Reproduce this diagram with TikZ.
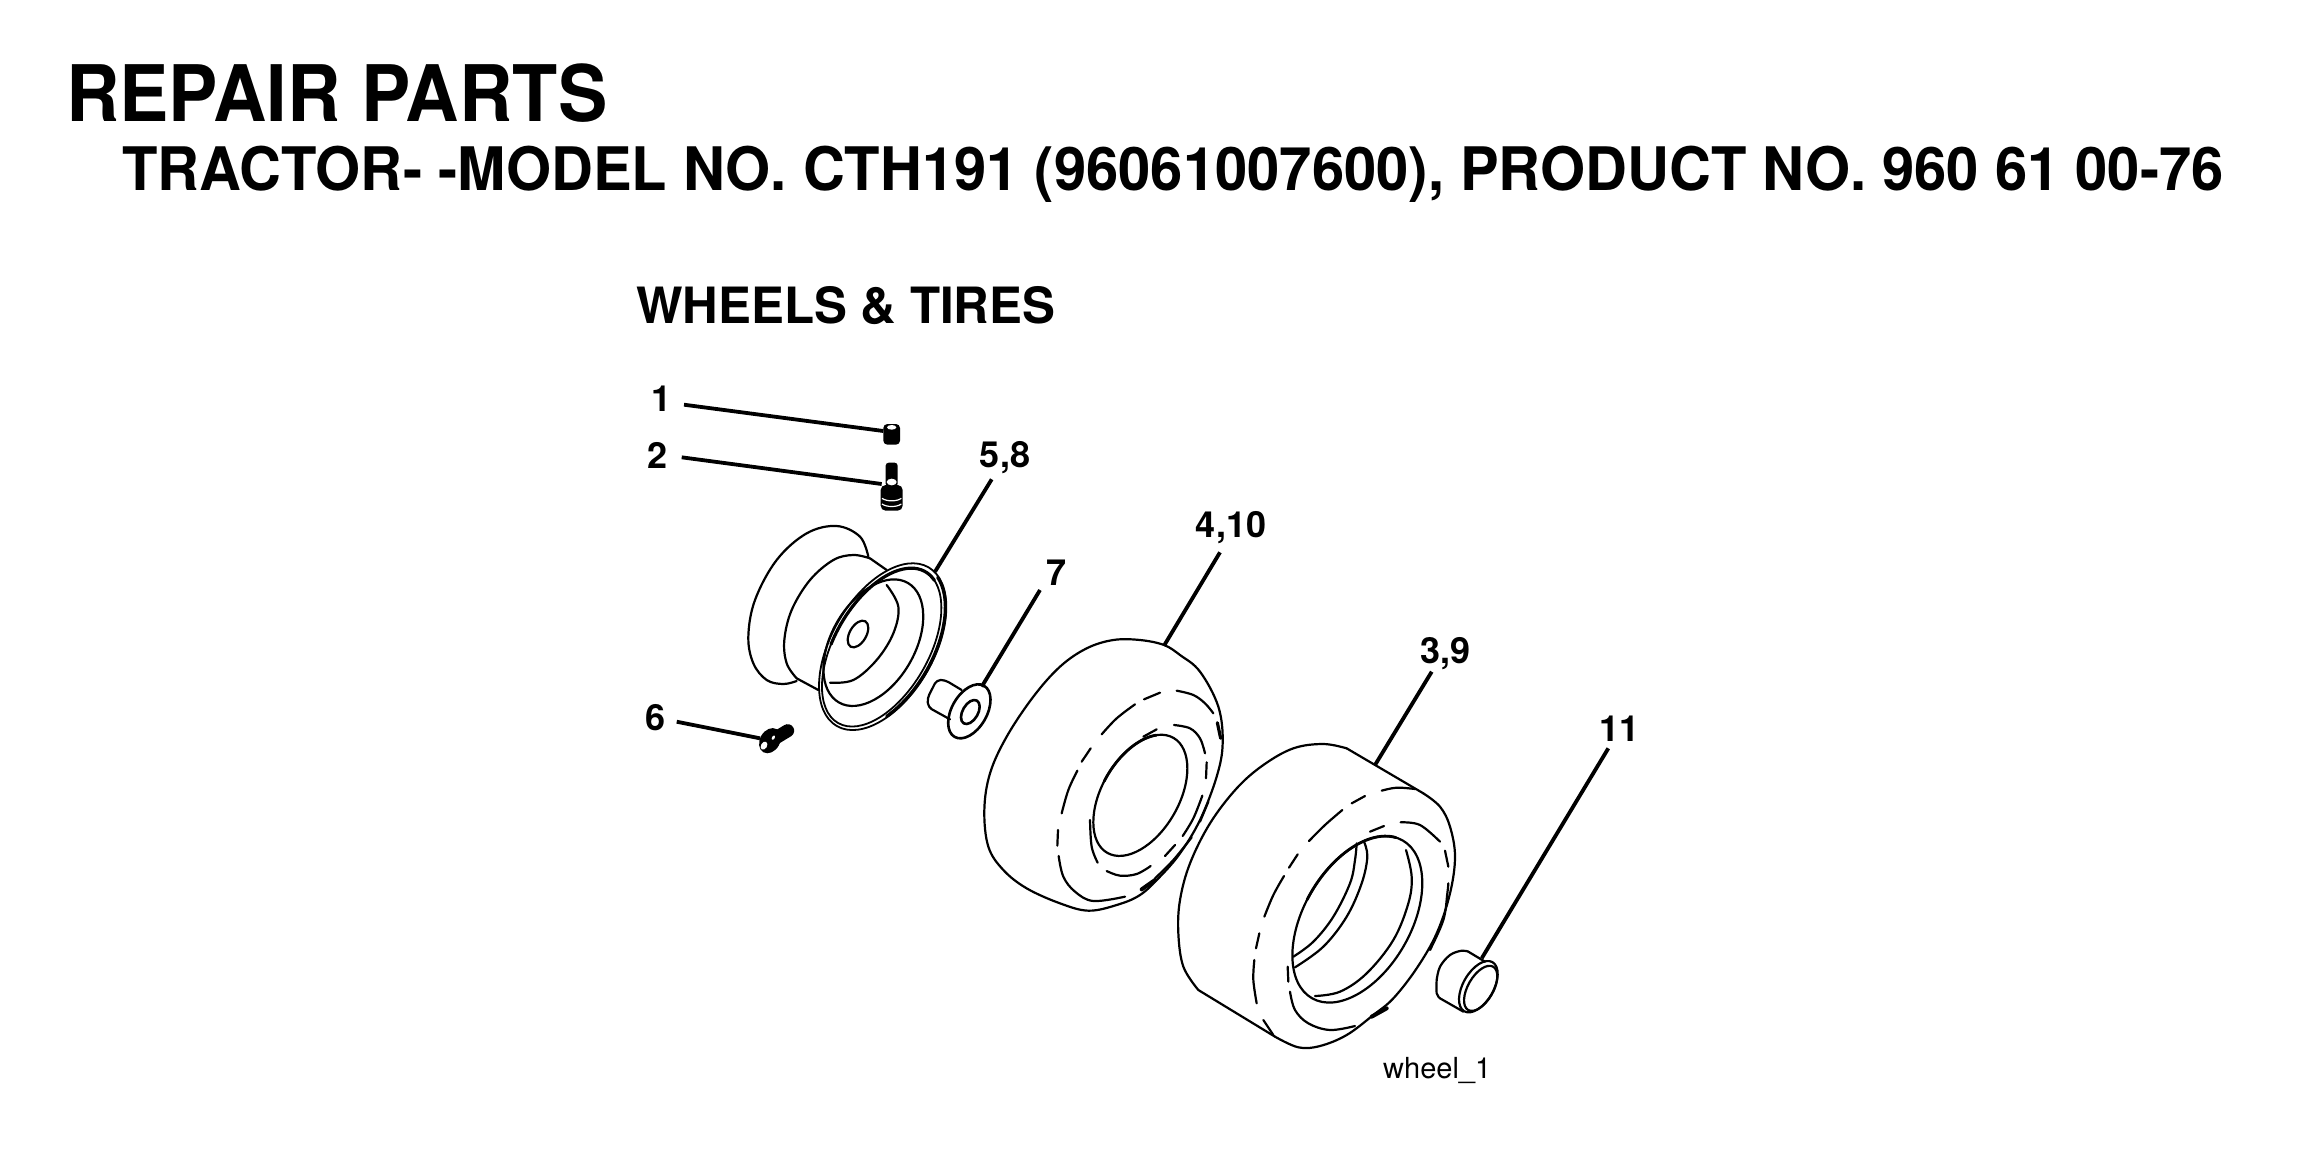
\documentclass[tikz,border=0pt]{standalone}
\usepackage{fontspec}
\setmainfont{TeX Gyre Heros}
\tikzset{
  ol/.style={line width=2.2pt,black,line cap=round,line join=round},
  heavy/.style={ol,line width=3.2pt},
  leader/.style={line width=3.8pt,black},
  callout/.style={inner sep=0pt,anchor=base,font=\fontsize{36}{36}\selectfont\bfseries},
  heading/.style={inner sep=0pt,anchor=base west},
}
\newcommand\cv[2][ol]{\draw[#1] plot[smooth,tension=.6] coordinates{#2};}
\newcommand\cvc[2][ol]{\draw[#1] plot[smooth cycle,tension=.6] coordinates{#2};}
\newcommand\tilt[5][ol]{\draw[#1] (#2,#3) circle[x radius=#4,y radius=#5,rotate=-30];}
% [style]{cx}{cy}{b}{a}{start}{end}
\newcommand\tiltarc[7][heavy]{\begin{scope}[shift={(#2,#3)},rotate=-30]
  \draw[#1] plot[smooth,samples=30,domain=#6:#7] ({#4*cos(\x)},{#5*sin(\x)});
\end{scope}}
\begin{document}
\begin{tikzpicture}[x=1pt,y=-1pt]
\useasboundingbox (0,0) rectangle (2314,1171);
\fill[white] (0,0) rectangle (2314,1171);
% titles
\node[heading,font=\fontsize{78}{78}\selectfont\bfseries] (title) at (66,121) {\scalebox{.948}[1]{REPAIR PARTS}};
\node[heading,font=\fontsize{60}{60}\selectfont\bfseries] (sub) at (122,190) {\scalebox{.966}[1]{TRACTOR- -MODEL NO. CTH191 (96061007600), PRODUCT NO. 960 61 00-76}};
\node[heading,font=\fontsize{50}{50}\selectfont\bfseries] (sect) at (636,323) {\scalebox{.986}[1]{WHEELS \& TIRES}};
% callouts
\node[callout] (n1) at (661,411) {1};
\node[callout] (n2) at (657,468) {2};
\node[callout] (n58) at (1005,467) {5,8};
\node[callout] (n6) at (655,730) {6};
\node[callout] (n7) at (1056,585) {7};
\node[callout] (n410) at (1231,537) {4,10};
\node[callout] (n39) at (1457,663) {\hspace{-24pt}3,9};
\node[callout] (n11) at (1627,741) {\hspace{-16pt}11};
\node[heading,font=\fontsize{29}{29}\selectfont] (wh) at (1383,1078) {wheel\_1};
% hub, spacer and small parts
\begin{scope}[shift={(620,370)},scale=.33333]
  \cv{(745,560) (720,500) (650,468) (560,490) (470,570) (405,690) (385,800) (400,880) (440,930) (490,942) (530,933)}
  \cv{(750,565) (700,555) (640,570) (570,630) (515,720) (493,810) (500,880) (530,925)}
  \draw[ol] (750,565) -- (800,600);
  \draw[ol] (530,925) -- (595,960);
  \tilt[ol,line width=1.8pt]{788}{830}{153}{275}
  \tilt[ol,line width=1.8pt]{785}{832}{141}{262}
  \tilt{760}{818}{125}{207}
  \tiltarc{785}{832}{141}{262}{165}{285}
  \tiltarc[ol,line width=3.2pt]{788}{830}{150}{272}{285}{400}
  \cv{(800,645) (835,710) (820,790) (770,870) (700,930) (630,938)}
  \tilt{714}{792}{25}{44}
  % spacer
  \draw[ol,rounded corners=4pt] (1025,960) -- (975,930) -- (950,930) -- (922,985) -- (925,1012) -- (990,1048);
  \tilt[ol,line width=2.6pt]{1048}{1024}{52.6}{88.5}
  \tilt[ol,line width=2.6pt]{1051}{1026}{23}{39.4}
  % cap
  \fill[black,rounded corners=4pt] (790,162) rectangle (840,224);
  \fill[white] (815,172) circle[x radius=14,y radius=7];
  % valve
  \fill[black,rounded corners=3pt] (797,278) rectangle (833,350);
  \fill[black,rounded corners=5pt] (782,345) rectangle (848,422);
  \fill[white] (815,336) circle[x radius=15,y radius=10];
  \draw[white,line width=1.2pt] (786,385) .. controls (800,395) and (830,395) .. (844,385);
  \draw[white,line width=1.2pt] (786,402) .. controls (800,412) and (830,412) .. (844,402);
  % bolt
  \draw[line width=13pt,black,line cap=round] (470,1102) -- (503,1082);
  \fill[black] (450,1112) circle[x radius=30,y radius=40,rotate=-30];
  \fill[white] (432,1127) circle[x radius=9,y radius=13,rotate=-30];
  \fill[white] (460,1103) circle[x radius=4,y radius=7,rotate=-30];
\end{scope}
% tire 4,10
\begin{scope}[shift={(960,500)},scale=.33333]
  \cvc{(612,435) (540,420) (460,420) (380,445) (300,500) (220,590) (140,710) (90,820) (73,930) (85,1040) (130,1110) (200,1165) (300,1210) (385,1232) (470,1215) (540,1185) (600,1130) (660,1060) (720,960) (770,830) (788,730) (775,620) (720,515) (660,465)}
  \cv{(650,572) (700,585) (735,610) (760,640)}
  \cv[heavy]{(772,668) (782,715)}
  \cv{(552,598) (600,578)}
  \cv{(425,703) (470,655) (525,613)}
  \cv{(365,785) (392,745)}
  \cv{(305,940) (325,870) (352,812)}
  \cv{(294,990) (292,1037)}
  \cv{(296,1068) (310,1130) (345,1175) (400,1203) (495,1190)}
  \cv[ol,line width=4pt]{(545,1168) (585,1140)}
  \cv{(585,1135) (640,1080) (695,1012)}
  \cv{(642,675) (690,685) (720,715) (735,760)}
  \cv{(740,787) (738,835)}
  \cv{(727,887) (700,955) (668,1008)}
  \cv{(720,965) (745,905)}
  \cv{(645,1035) (615,1068)}
  \cv{(572,1098) (530,1122) (480,1127) (440,1113)}
  \cv{(413,1088) (395,1040) (390,960)}
  \cv{(550,710) (590,688)}
  \tilt{541}{886}{115.5}{199}
  \tiltarc[ol,line width=2.8pt]{541}{886}{115.5}{199}{175}{245}
\end{scope}
% tire 3,9 and plug
\begin{scope}[shift={(1160,640)},scale=.33333]
  \cv{(560,325) (490,312) (400,325) (310,375) (230,445) (150,550) (90,670) (60,780) (55,880) (70,980) (115,1050)}
  \draw[ol] (115,1050) -- (345,1190);
  \cv{(345,1190) (415,1222) (480,1218) (560,1185) (640,1125) (700,1075) (770,985) (830,880) (870,760) (885,650) (870,560) (840,500) (790,460)}
  \draw[ol] (790,460) -- (560,325);
  \cv{(665,452) (710,443) (765,447)}
  \cv{(575,490) (615,468)}
  \cv{(447,603) (495,555) (547,510)}
  \cv{(387,683) (413,643)}
  \cv{(313,830) (340,765) (372,708)}
  \cv{(288,925) (298,880)}
  \cv{(290,1090) (280,1020) (283,960)}
  \cv{(310,1140) (340,1185)}
  \cv{(390,1055) (405,1110) (445,1150) (510,1170) (585,1158)}
  \cv[ol,line width=4pt]{(635,1130) (680,1105)}
  \cv{(810,930) (850,840) (862,760) (865,730)}
  \cv{(855,632) (865,680)}
  \cv{(722,547) (780,555) (840,605)}
  \cv{(630,575) (672,558)}
  \cv{(383,980) (385,1025)}
  \tilt{592}{838}{160.6}{273}
  \tiltarc[ol,line width=2.8pt]{592}{838}{160.6}{273}{175}{262}
  \cv{(590,610) (585,660) (570,730) (520,830) (460,905) (400,950)}
  \cv{(612,605) (622,650) (605,730) (560,830) (490,920) (405,982)}
  \cv{(738,630) (755,710) (745,790) (700,900) (620,1000) (540,1055) (465,1068)}
  % plug
  \cv{(830,1020) (840,980) (870,945) (905,932) (925,935)}
  \draw[ol] (925,935) -- (975,965);
  \cv{(830,1020) (830,1060) (840,1075)}
  \draw[ol] (840,1075) -- (910,1115);
  \tilt{955}{1040}{45.6}{85}
  \tilt{962}{1045}{38}{75}
\end{scope}
% leader ends
\coordinate (a1) at (684,404.7);   \coordinate (b1) at (883.3,431);
\coordinate (a2) at (681.7,457.3); \coordinate (b2) at (881.7,484);
\coordinate (a58) at (991.7,479.3);\coordinate (b58) at (935,571.7);
\coordinate (a6) at (676.7,721.7); \coordinate (b6) at (760,738.3);
\coordinate (a7) at (1040,590);    \coordinate (b7) at (981.7,686.7);
\coordinate (a410) at (1220,552.3);\coordinate (b410) at (1164,645.7);
\coordinate (a39) at (1431.7,671.7);\coordinate (b39) at (1375,765);
\coordinate (a11) at (1608.3,748.3);\coordinate (b11) at (1481.7,958.3);
\draw[leader] (a1) -- (b1);
\draw[leader] (a2) -- (b2);
\draw[leader] (a58) -- (b58);
\draw[leader] (a6) -- (b6);
\draw[leader] (a7) -- (b7);
\draw[leader] (a410) -- (b410);
\draw[leader] (a39) -- (b39);
\draw[leader] (a11) -- (b11);
\end{tikzpicture}
\end{document}
